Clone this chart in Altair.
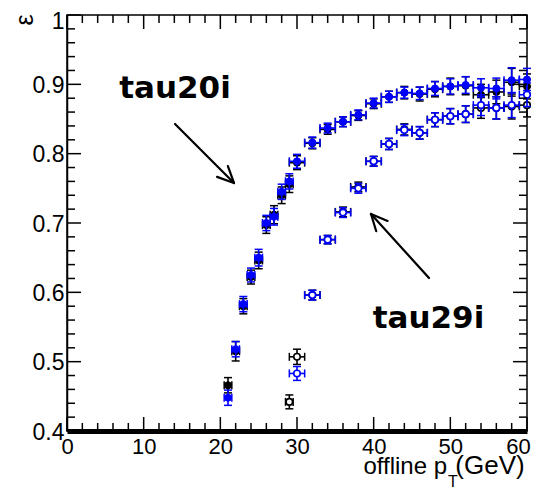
import math
import altair as alt
import pandas as pd

# ---------------- data ----------------
fill_x = [21, 22, 23, 24, 25, 26, 27, 28, 29, 30, 32, 34, 36, 38, 40, 42, 44, 46, 48, 50, 52, 54, 56, 58, 60]
blue_fill_y = [0.448, 0.518, 0.583, 0.625, 0.650, 0.700, 0.709, 0.745, 0.760, 0.789, 0.816, 0.837, 0.846,
               0.856, 0.873, 0.882, 0.888, 0.887, 0.894, 0.897, 0.899, 0.895, 0.894, 0.906, 0.907]
blue_fill_err = [0.011, 0.011, 0.011, 0.010, 0.012, 0.011, 0.012, 0.011, 0.011, 0.010, 0.008, 0.007, 0.007,
                 0.007, 0.007, 0.008, 0.008, 0.009, 0.010, 0.011, 0.012, 0.013, 0.015, 0.018, 0.016]
black_fill_y = [0.466, 0.515, 0.580, 0.622, 0.646, 0.697, 0.712, 0.740, 0.756, 0.787, 0.815, 0.835, 0.846,
                0.855, 0.872, 0.882, 0.888, 0.886, 0.893, 0.897, 0.898, 0.885, 0.889, 0.903, 0.897]
black_fill_err = [0.011, 0.014, 0.011, 0.010, 0.012, 0.012, 0.013, 0.012, 0.012, 0.010, 0.008, 0.007, 0.007,
                  0.007, 0.007, 0.008, 0.009, 0.010, 0.011, 0.012, 0.013, 0.015, 0.017, 0.020, 0.018]

open_blue_x = [30, 32, 34, 36, 38, 40, 42, 44, 46, 48, 50, 52, 54, 56, 58, 60]
open_blue_y = [0.483, 0.596, 0.676, 0.715, 0.750, 0.789, 0.814, 0.834, 0.830, 0.849, 0.854, 0.857,
               0.870, 0.866, 0.870, 0.885]
open_blue_err = [0.010, 0.007, 0.006, 0.007, 0.007, 0.007, 0.008, 0.008, 0.009, 0.010, 0.011, 0.012,
                 0.015, 0.016, 0.018, 0.017]
open_black_x = [29, 30, 32, 34, 36, 38, 40, 42, 44, 46, 48, 50, 52, 54, 56, 58, 60]
open_black_y = [0.442, 0.507, 0.596, 0.676, 0.716, 0.752, 0.789, 0.814, 0.835, 0.830, 0.849, 0.854,
                0.857, 0.866, 0.866, 0.868, 0.870]
open_black_err = [0.010, 0.011, 0.007, 0.006, 0.007, 0.007, 0.007, 0.008, 0.008, 0.009, 0.010, 0.011,
                  0.012, 0.015, 0.016, 0.018, 0.017]

x_major = [0, 10, 20, 30, 40, 50, 60]
x_minor = [2, 4, 6, 8, 12, 14, 16, 18, 22, 24, 26, 28, 32, 34, 36, 38, 42, 44, 46, 48, 52, 54, 56, 58]
y_major = [0.4, 0.5, 0.6, 0.7, 0.8, 0.9, 1.0]
y_minor = [0.42, 0.44, 0.46, 0.48, 0.52, 0.54, 0.56, 0.58, 0.62, 0.64, 0.66, 0.68, 0.72, 0.74, 0.76,
           0.78, 0.82, 0.84, 0.86, 0.88, 0.92, 0.94, 0.96, 0.98]

labels_text = ["tau20i", "tau29i"]
labels_x = [14.09, 47.15]
labels_y = [0.880, 0.5486]
arrow_start = [(14.09, 0.8428), (47.22, 0.6207)]
arrow_tip = [(21.78, 0.7577), (39.65, 0.7130)]

y_title = "ε"
x_title_parts = ["offline p", "T", "(GeV)"]

# ---------------- layout ----------------
W, H = 460, 416
XMIN, XMAX, YMIN, YMAX = 0, 60, 0.4, 1.0
BLUE = "#0000ff"
BLACK = "#000000"
FONT = "Liberation Sans"

xs = alt.Scale(domain=[XMIN, XMAX], nice=False, zero=False)
ys = alt.Scale(domain=[YMIN, YMAX], nice=False, zero=False)

x_axis = alt.Axis(values=x_major, format="d", labelFont=FONT, labelFontSize=22, labelColor="black",
                  ticks=False, domainWidth=5, domainColor="black", labelPadding=5, title=None,
                  grid=False, labelFlush=False, labelOverlap=False,
                  labelOffset={"condition": {"test": "datum.value >= 59", "value": -9}, "value": 0})
y_axis = alt.Axis(values=y_major, format="~g", labelFont=FONT, labelFontSize=23, labelColor="black",
                  ticks=False, domainWidth=1.5, domainColor="black", labelPadding=3, title=None,
                  grid=False, labelFlush=False, labelOverlap=False,
                  labelOffset={"condition": {"test": "datum.value >= 0.99", "value": 6}, "value": 1})


def X(f):
    return alt.X(f, scale=xs, axis=x_axis, title=None)


def Y(f):
    return alt.Y(f, scale=ys, axis=y_axis, title=None)


def series_layers(xv, yv, ev, color, filled):
    df = pd.DataFrame({
        "x": xv, "y": yv,
        "xlo": [a - (0.5 if a < 30 else 1.0) for a in xv],
        "xhi": [a + (0.5 if a < 30 else 1.0) for a in xv],
        "ylo": [b - e for b, e in zip(yv, ev)],
        "yhi": [b + e for b, e in zip(yv, ev)],
    })
    base = alt.Chart(df)
    hbar = base.mark_rule(color=color, strokeWidth=1.6).encode(x=X("xlo:Q"), x2="xhi:Q", y=Y("y:Q"))
    vbar = base.mark_rule(color=color, strokeWidth=1.6).encode(x=X("x:Q"), y=Y("ylo:Q"), y2="yhi:Q")
    caps = []
    for f in ["xlo", "xhi"]:
        caps.append(base.mark_tick(orient="vertical", size=8, thickness=1.5, color=color, opacity=1).encode(
            x=X(f + ":Q"), y=Y("y:Q")))
    for f in ["ylo", "yhi"]:
        caps.append(base.mark_tick(orient="horizontal", size=8, thickness=1.5, color=color, opacity=1).encode(
            x=X("x:Q"), y=Y(f + ":Q")))
    if filled:
        pts = base.mark_point(shape="circle", size=50, filled=True, fill=color, stroke=color,
                              strokeWidth=1, opacity=1)
    else:
        pts = base.mark_point(shape="circle", size=42, fill="white", fillOpacity=1, stroke=color,
                              strokeWidth=1.6, opacity=1)
    pts = pts.encode(x=X("x:Q"), y=Y("y:Q"))
    return [hbar, vbar] + caps + [pts]


def tick_layer(vals, side, length):
    df = pd.DataFrame({"v": vals})
    m = alt.Chart(df).mark_rule(color="black", strokeWidth=1.5)
    if side == "left":
        return m.encode(y=Y("v:Q"), x=alt.value(0), x2=alt.value(length))
    if side == "right":
        return m.encode(y=Y("v:Q"), x=alt.value(W - length), x2=alt.value(W))
    if side == "bottom":
        return m.encode(x=X("v:Q"), y=alt.value(H - length), y2=alt.value(H))
    return m.encode(x=X("v:Q"), y=alt.value(0), y2=alt.value(length))


layers = []
layers += series_layers(fill_x, black_fill_y, black_fill_err, BLACK, True)
layers += series_layers(open_black_x, open_black_y, open_black_err, BLACK, False)
layers += series_layers(fill_x, blue_fill_y, blue_fill_err, BLUE, True)
layers += series_layers(open_blue_x, open_blue_y, open_blue_err, BLUE, False)

for side in ["left", "right"]:
    layers.append(tick_layer(y_major, side, 14))
    layers.append(tick_layer(y_minor, side, 8))
for side in ["top", "bottom"]:
    layers.append(tick_layer(x_major, side, 14))
    layers.append(tick_layer(x_minor, side, 8))

# arrows (shaft + open V head, head computed in pixel space)
px_per_x = W / (XMAX - XMIN)
px_per_y = H / (YMAX - YMIN)
rows = []
for (sx, sy), (tx, ty) in zip(arrow_start, arrow_tip):
    rows.append({"x": sx, "y": sy, "x2": tx, "y2": ty})
    dx = (sx - tx) * px_per_x
    dy = -(sy - ty) * px_per_y
    ang = math.atan2(dy, dx)
    for da in (-0.44, 0.44):
        a = ang + da
        wx = tx + 18 * math.cos(a) / px_per_x
        wy = ty - 18 * math.sin(a) / px_per_y
        rows.append({"x": tx, "y": ty, "x2": wx, "y2": wy})
arrows = alt.Chart(pd.DataFrame(rows)).mark_rule(color="black", strokeWidth=2.2, strokeCap="round").encode(
    x=X("x:Q"), y=Y("y:Q"), x2="x2:Q", y2="y2:Q")
layers.append(arrows)

ann = alt.Chart(pd.DataFrame({"t": labels_text, "x": labels_x, "y": labels_y})).mark_text(
    font="DejaVu Sans", fontWeight="bold", fontSize=31, align="center", baseline="alphabetic",
    color="black").encode(x=X("x:Q"), y=Y("y:Q"), text="t:N")
layers.append(ann)

# axis titles
layers.append(alt.Chart(pd.DataFrame({"t": [y_title]})).mark_text(
    font=FONT, fontSize=25, angle=270, align="center", baseline="middle", color="black").encode(
    text="t:N", x=alt.value(-42), y=alt.value(5)))
layers.append(alt.Chart(pd.DataFrame({"t": [x_title_parts[0]]})).mark_text(
    font=FONT, fontSize=24, align="right", baseline="alphabetic", color="black").encode(
    text="t:N", x=alt.value(380), y=alt.value(459)))
layers.append(alt.Chart(pd.DataFrame({"t": [x_title_parts[1]]})).mark_text(
    font=FONT, fontSize=16, align="center", baseline="alphabetic", color="black").encode(
    text="t:N", x=alt.value(386), y=alt.value(472)))
layers.append(alt.Chart(pd.DataFrame({"t": [x_title_parts[2]]})).mark_text(
    font=FONT, fontSize=26, align="center", baseline="alphabetic", color="black").encode(
    text="t:N", x=alt.value(423), y=alt.value(459)))

chart = alt.layer(*layers).properties(
    width=W, height=H,
    autosize=alt.AutoSizeParams(type="none"),
    padding={"left": 59, "top": 7, "right": 4, "bottom": 59},
).configure_view(stroke="black", strokeWidth=1.5)

chart.save("out.html", embed_options={"renderer": "svg", "actions": False})
